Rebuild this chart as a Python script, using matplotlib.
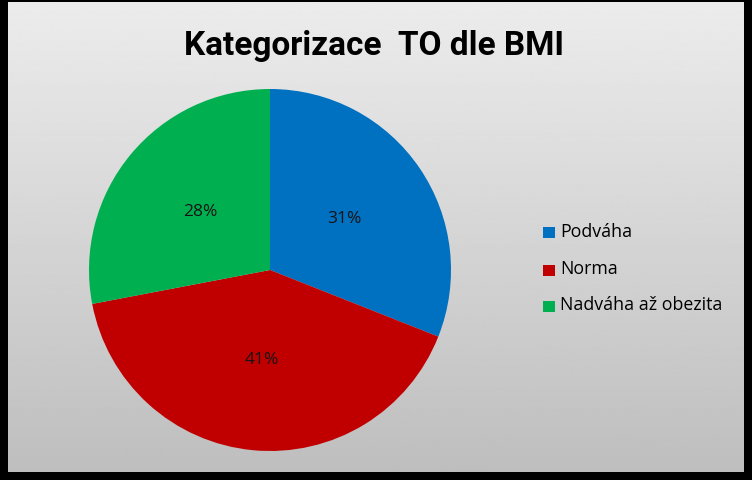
import matplotlib.pyplot as plt
from matplotlib.patches import Rectangle
import numpy as np

# data
categories = ["Podváha", "Norma", "Nadváha až obezita"]
shares = [31, 41, 28]
slice_colors = ["#0070C0", "#C00000", "#00B050"]
title = "Kategorizace  TO dle BMI"

W, H = 752, 480
fig = plt.figure(figsize=(W / 100, H / 100), dpi=100)
fig.patch.set_facecolor("black")

font = ["Open Sans", "DejaVu Sans"]
title_font = ["Roboto", "DejaVu Sans"]

# gradient panel
bg = fig.add_axes([8 / W, 8 / H, 736 / W, 470 / H])
grad = np.linspace(0.925, 0.745, 256).reshape(-1, 1)
bg.imshow(grad, cmap="gray", vmin=0, vmax=1, aspect="auto",
          extent=[0, 1, 0, 1], interpolation="bilinear")
bg.set_xlim(0, 1)
bg.set_ylim(0, 1)
bg.axis("off")

# pie
ax = fig.add_axes([89 / W, 29 / H, 362 / W, 362 / H])
wedges, _, autotexts = ax.pie(shares, colors=slice_colors, startangle=90,
                              counterclock=False, autopct="%1.0f%%",
                              pctdistance=0.5, radius=1.0,
                              textprops=dict(fontsize=12.5, color="#151515",
                                             family=font))
ax.set_xlim(-1, 1)
ax.set_ylim(-1, 1)
ax.set_aspect("equal")
ax.axis("off")

fig.text(374 / W, 1 - 46 / H, title, ha="center", va="center",
         fontsize=24, fontweight="bold", family=title_font, color="black")

# legend
rows_y = [233, 270, 306]
for name, col, yy in zip(categories, slice_colors, rows_y):
    fig.patches.append(Rectangle((543 / W, 1 - (yy + 5.5) / H), 12 / W, 11 / H,
                                 transform=fig.transFigure, facecolor=col,
                                 edgecolor="none", zorder=5))
    fig.text(560 / W, 1 - (yy - 1) / H, name, ha="left", va="center",
             fontsize=12.8, family=font, color="black")

fig.savefig("out.png", dpi=100, facecolor=fig.get_facecolor())
